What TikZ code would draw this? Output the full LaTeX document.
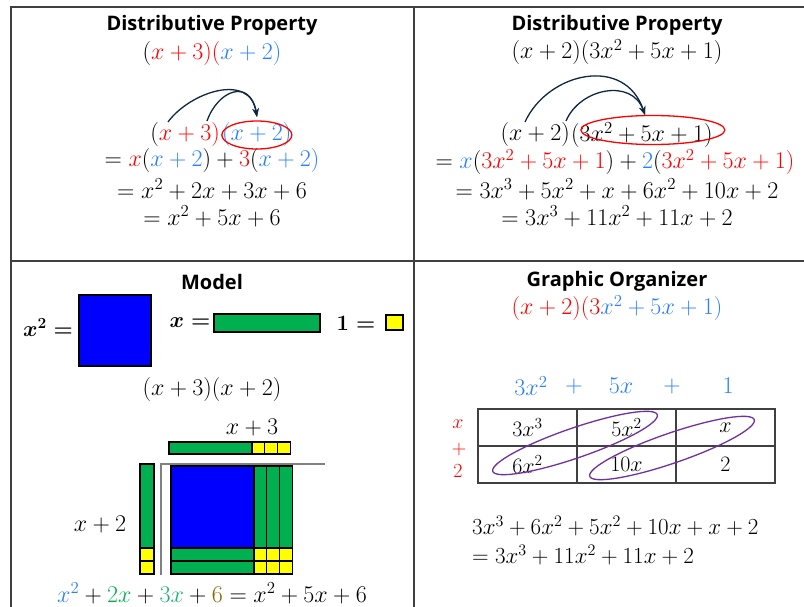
\documentclass[tikz,border=0pt]{standalone}
\usepackage{fix-cm}
\usepackage{amsmath}
\usepackage{fontspec}
\newfontfamily\headfont{Open Sans}
\usetikzlibrary{arrows.meta,positioning,calc}
\definecolor{termred}{HTML}{FF0000}
\definecolor{termblue}{HTML}{2A7FFF}
\definecolor{termgreen}{HTML}{00B050}
\definecolor{termteal}{HTML}{1DB372}
\definecolor{sixolive}{HTML}{7F6A00}
\definecolor{tilegreen}{HTML}{00B050}
\definecolor{tileblue}{HTML}{0000FF}
\definecolor{tileyellow}{HTML}{FFFF00}
\definecolor{arrowink}{HTML}{0E2841}
\definecolor{loopviolet}{HTML}{7030A0}
\definecolor{rulegray}{HTML}{404040}

\begin{document}
\begin{tikzpicture}[x=1pt,y=-1pt,
  head/.style={font=\headfont\bfseries\fontsize{20}{24}\selectfont,inner sep=0pt},
  eq/.style={font=\fontsize{24}{28}\selectfont,inner sep=0pt},
  boldeq/.style={font=\fontsize{22}{26}\selectfont\boldmath,inner sep=0pt},
  slot/.style={draw=rulegray,line width=1.2pt,minimum width=99pt,minimum height=37pt,
    inner sep=0pt,font=\fontsize{22}{26}\selectfont},
  tile/.style={draw=black,line width=1.2pt},
  reach/.style={arrowink,line width=1.3pt,-{Stealth[length=3mm]}}]
  \useasboundingbox (0,0) rectangle (804,607);
  % frame
  \draw[rulegray,line width=1.5pt] (804,7) -- (11,7) -- (11,607);
  \draw[rulegray,line width=1.5pt] (414,7) -- (414,607);
  \draw[rulegray,line width=1.5pt] (11,261) -- (804,261);

  % top left: distributive property
  \node[head] (dp1) at (212,25) {Distributive Property};
  \node[eq] (q1) at (212,54)
    {$(\textcolor{termred}{x+3)(}\textcolor{termblue}{x+2)}$};
  \node[eq,anchor=east] (p1) at (220,135) {$(\textcolor{termred}{x+3)}$};
  \node[eq,right=2pt of p1] (p2) {$\textcolor{termblue}{(x+2)}$};
  \draw[termred,line width=1.3pt] (p2.center) ellipse[x radius=35,y radius=14];
  \coordinate (s1) at (168,122);
  \coordinate (s2) at (207,121);
  \coordinate (t1) at (257,117);
  \draw[reach] (s1) .. controls (190,92) and (250,72) .. (t1);
  \draw[reach] (s2) .. controls (218,90) and (250,78) .. (t1);
  \node[eq] (r1) at (212,161)
    {$=\textcolor{termred}{x}(\textcolor{termblue}{x+2})+\textcolor{termred}{3}(\textcolor{termblue}{x+2)}$};
  \node[eq] (r2) at (212,189) {$=x^2+2x+3x+6$};
  \node[eq] (r3) at (212,216) {$=x^2+5x+6$};

  % top right: distributive property
  \node[head] (dp2) at (617,25) {Distributive Property};
  \node[eq] (q2) at (617,52) {$(x+2)(3x^2+5x+1)$};
  \node[eq,anchor=east] (p3) at (570,135) {$(x+2)$};
  \node[eq,right=1pt of p3] (p4) {$(3x^2+5x+1)$};
  \draw[termred,line width=1.3pt] ($(p4.center)+(11,-5)$) ellipse[x radius=72,y radius=14.5];
  \coordinate (s3) at (525,122);
  \coordinate (s4) at (566,121);
  \coordinate (t2) at (645,115);
  \draw[reach] (s3) .. controls (548,72) and (625,55) .. (t2);
  \draw[reach] (s4) .. controls (580,88) and (632,78) .. (t2);
  \node[eq] (r4) at (615,162)
    {$=\textcolor{termblue}{x}(\textcolor{termred}{3x^2+5x+1})+\textcolor{termblue}{2}(\textcolor{termred}{3x^2+5x+1)}$};
  \node[eq] (r5) at (617,189) {$=3x^3+5x^2+x+6x^2+10x+2$};
  \node[eq] (r6) at (617,216) {$=3x^3+11x^2+11x+2$};

  % bottom left: model
  \node[head] (mdl) at (212,282) {Model};
  \node[boldeq] (k1) at (48,328) {$x^2=$};
  \draw[tile,fill=tileblue] (79,295) rectangle (151,366);
  \node[boldeq] (k2) at (190,323) {$x=$};
  \draw[tile,fill=tilegreen] (214,314) rectangle (320,332);
  \node[boldeq] (k3) at (356,323) {$1=$};
  \draw[tile,fill=tileyellow] (386,315) rectangle (403,330);
  \node[eq] (m1) at (212,389) {$(x+3)(x+2)$};
  \node[eq] (m2) at (252,428) {$x+3$};
  \node[eq] (m3) at (100,525) {$x+2$};
  % x+3 strip
  \draw[tile,fill=tilegreen] (169,442) rectangle (252,454);
  \foreach \i in {0,1,2}
    \draw[tile,fill=tileyellow] (252+12.7*\i,442) rectangle (264.7+12.7*\i,454);
  % x+2 strip
  \draw[tile,fill=tilegreen] (140,464) rectangle (154,548);
  \foreach \j in {0,1}
    \draw[tile,fill=tileyellow] (140,548+13*\j) rectangle (154,561+13*\j);
  \draw[gray,line width=1.2pt] (161,575) -- (161,464) -- (325,464);
  % product area
  \draw[tile,fill=tileblue] (171,466) rectangle (254,548);
  \foreach \i in {0,1,2}
    \draw[tile,fill=tilegreen] (254+12.7*\i,466) rectangle (266.7+12.7*\i,548);
  \foreach \j in {0,1}
    \draw[tile,fill=tilegreen] (171,548+13*\j) rectangle (254,561+13*\j);
  \foreach \i in {0,1,2}
    \foreach \j in {0,1}
      \draw[tile,fill=tileyellow] (254+12.7*\i,548+13*\j) rectangle (266.7+12.7*\i,561+13*\j);
  \node[eq] (m4) at (212,593)
    {$\textcolor{termblue}{x^2}+\textcolor{termgreen}{2x}+\textcolor{termteal}{3x}+\textcolor{sixolive}{6}=x^2+5x+6$};

  % bottom right: graphic organizer
  \node[head] (go) at (617,281) {Graphic Organizer};
  \node[eq] (q3) at (617,308)
    {$\textcolor{termred}{(x+2)(3}\textcolor{termblue}{x^2+5x+1)}$};
  \node[eq,termblue] (h1) at (531,386) {$3x^2$};
  \node[eq,termblue] (h2) at (574,386) {$+$};
  \node[eq,termblue] (h3) at (621,386) {$5x$};
  \node[eq,termblue] (h4) at (672,386) {$+$};
  \node[eq,termblue] (h5) at (728,386) {$1$};
  \node[slot] (c11) at (527.5,427.5) {$3x^3$};
  \node[slot] (c12) at (626.5,427.5) {$5x^2$};
  \node[slot] (c13) at (725.5,427.5) {$x$};
  \node[slot] (c21) at (527.5,464.5) {$6x^2$};
  \node[slot] (c22) at (626.5,464.5) {$10x$};
  \node[slot] (c23) at (725.5,464.5) {$2$};
  \node[eq,termred,font=\fontsize{20}{24}\selectfont] (v1) at (458,424) {$x$};
  \node[eq,termred,font=\fontsize{20}{24}\selectfont] (v2) at (459,449) {$+$};
  \node[eq,termred,font=\fontsize{20}{24}\selectfont] (v3) at (458,471) {$2$};
  \coordinate (o1) at (575,443);
  \coordinate (o2) at (672,448);
  \draw[loopviolet,line width=1.3pt,rotate around={19:(o1)}] (o1) ellipse[x radius=87,y radius=15];
  \draw[loopviolet,line width=1.3pt,rotate around={19:(o2)}] (o2) ellipse[x radius=87,y radius=15];
  \node[eq,anchor=west,font=\fontsize{23}{27}\selectfont] (sum1) at (472,526) {$3x^3+6x^2+5x^2+10x+x+2$};
  \node[eq,anchor=west,font=\fontsize{23}{27}\selectfont] (sum2) at (472,555) {$=3x^3+11x^2+11x+2$};
\end{tikzpicture}
\end{document}
